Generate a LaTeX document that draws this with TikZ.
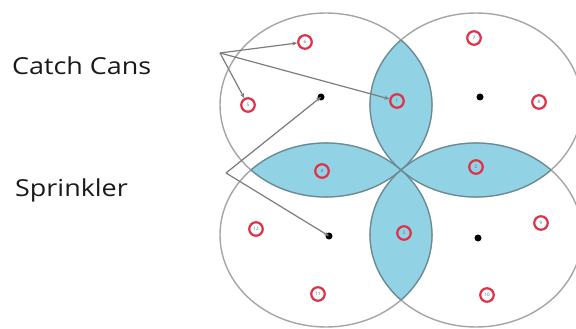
\documentclass[tikz,border=0pt]{standalone}
\usepackage{fontspec}
\setmainfont{Open Sans}
\usetikzlibrary{arrows.meta}
\definecolor{lensblue}{RGB}{146,210,229}
\definecolor{lensedge}{RGB}{95,140,152}
\definecolor{ringgrey}{RGB}{165,165,165}
\definecolor{arrowgrey}{RGB}{125,125,125}
\definecolor{canred}{RGB}{222,50,72}
\definecolor{cantext}{RGB}{60,110,120}
\tikzset{
  ring/.style={draw=ringgrey, line width=1.4pt},
  lensline/.style={draw=lensedge, line width=1.1pt},
  can/.style={circle, draw=canred, line width=2.2pt, minimum size=13.5pt, inner sep=0pt,
    font=\fontsize{4.5}{4.5}\selectfont, text=cantext},
  sprinkler/.style={circle, fill=black, minimum size=7pt, inner sep=0pt},
  pointer/.style={draw=arrowgrey, line width=1.2pt, -{Stealth[length=5pt,width=4pt]}},
  label/.style={anchor=base west, inner sep=0pt, text=black!90,
    font=\fontsize{23.4}{28}\selectfont}
}
\begin{document}
\begin{tikzpicture}[x=1pt,y=-1pt]
\useasboundingbox (0,0) rectangle (576,329);
\fill[white] (0,0) rectangle (576,329);
% lenses
\def\RX{106}\def\RY{92}
\begin{scope}\clip (326,105) ellipse [x radius=\RX, y radius=\RY];
  \fill[lensblue] (476,105) ellipse [x radius=\RX, y radius=\RY];
  \fill[lensblue] (326,235) ellipse [x radius=\RX, y radius=\RY];
\end{scope}
\begin{scope}\clip (476,235) ellipse [x radius=\RX, y radius=\RY];
  \fill[lensblue] (476,105) ellipse [x radius=\RX, y radius=\RY];
  \fill[lensblue] (326,235) ellipse [x radius=\RX, y radius=\RY];
\end{scope}
% circle outlines
\draw[ring] (326,105) ellipse [x radius=\RX, y radius=\RY];
\draw[ring] (476,105) ellipse [x radius=\RX, y radius=\RY];
\draw[ring] (326,235) ellipse [x radius=\RX, y radius=\RY];
\draw[ring] (476,235) ellipse [x radius=\RX, y radius=\RY];
% lens outlines
\begin{scope}\clip (326,105) ellipse [x radius=\RX, y radius=\RY];
  \draw[lensline] (476,105) ellipse [x radius=\RX, y radius=\RY];
  \draw[lensline] (326,235) ellipse [x radius=\RX, y radius=\RY];
\end{scope}
\begin{scope}\clip (476,235) ellipse [x radius=\RX, y radius=\RY];
  \draw[lensline] (476,105) ellipse [x radius=\RX, y radius=\RY];
  \draw[lensline] (326,235) ellipse [x radius=\RX, y radius=\RY];
\end{scope}
\begin{scope}\clip (476,105) ellipse [x radius=\RX, y radius=\RY];
  \draw[lensline] (326,105) ellipse [x radius=\RX, y radius=\RY];
  \draw[lensline] (476,235) ellipse [x radius=\RX, y radius=\RY];
\end{scope}
\begin{scope}\clip (326,235) ellipse [x radius=\RX, y radius=\RY];
  \draw[lensline] (326,105) ellipse [x radius=\RX, y radius=\RY];
  \draw[lensline] (476,235) ellipse [x radius=\RX, y radius=\RY];
\end{scope}
% sprinklers
\node[sprinkler] (s1) at (321,97) {};
\node[sprinkler] (s2) at (480,97) {};
\node[sprinkler] (s3) at (329,236) {};
\node[sprinkler] (s4) at (478,238) {};
% catch cans
\node[can] (c1) at (397,101) {1};
\node[can] (c2) at (476,167) {2};
\node[can] (c3) at (404,233) {3};
\node[can] (c4) at (322,171) {4};
\node[can] (c5) at (248,105) {5};
\node[can] (c6) at (305,42) {6};
\node[can] (c7) at (474,38) {7};
\node[can] (c8) at (539,102) {8};
\node[can] (c9) at (541,223) {9};
\node[can] (c10) at (487,295) {10};
\node[can] (c11) at (318,294) {11};
\node[can] (c12) at (256,229) {12};
% labels
\node[label] (lc) at (12,75) {\scalebox{1.15}[1]{Catch Cans}};
\node[label] (ls) at (15,196) {\scalebox{1.15}[1]{Sprinkler}};
% pointers
\coordinate (pc) at (220,53);
\coordinate (ps) at (226,173);
\draw[pointer] (pc) -- (c6);
\draw[pointer] (pc) -- (c5);
\draw[pointer] (pc) -- (c1);
\draw[pointer] (ps) -- (s1.center);
\draw[pointer] (ps) -- (s3.center);
\end{tikzpicture}
\end{document}
